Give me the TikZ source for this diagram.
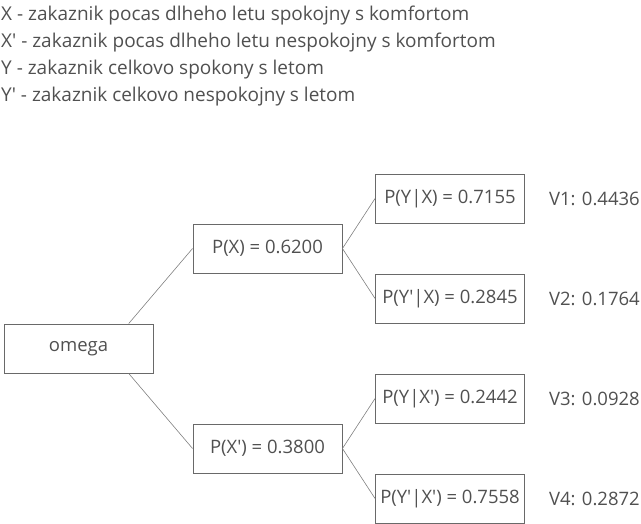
\documentclass[tikz,border=0pt]{standalone}
\usepackage{fontspec}
\setmainfont{Open Sans}
\usetikzlibrary{positioning,calc}
\definecolor{ink}{RGB}{80,80,80}
\definecolor{frame}{RGB}{105,105,105}
\newcommand{\q}{\textquotesingle}

\begin{document}
\begin{tikzpicture}[x=1pt, y=-1pt,
    box/.style={draw=frame,line width=0.9pt,minimum width=149pt,minimum height=49pt,
                inner sep=0pt,text=ink,font=\fontsize{18.5}{22}\selectfont},
    lbl/.style={anchor=west,inner sep=0pt,text=ink,font=\fontsize{19}{22}\selectfont},
    val/.style={anchor=east,inner sep=0pt,text=ink,font=\fontsize{18.5}{22}\selectfont},
    ln/.style={draw=frame!85,line width=0.6pt}]
    \useasboundingbox (0,0) rectangle (641,524);
    % legend
    \node[lbl] (l1) at (1,16) {X - zakaznik pocas dlheho letu spokojny s komfortom};
    \node[lbl] (l2) at (1,43) {X\q{} - zakaznik pocas dlheho letu nespokojny s komfortom};
    \node[lbl] (l3) at (1,70) {Y - zakaznik celkovo spokony s letom};
    \node[lbl] (l4) at (1,97) {Y\q{} - zakaznik celkovo nespokojny s letom};
    % tree
    \node[box] (om)  at (78.5,348.5) {omega};
    \node[box] (x)   at (267.5,248.5) {P(X) = 0.6200};
    \node[box] (nx)  at (267.5,448.5) {P(X\q) = 0.3800};
    \node[box] (yx)  at (450,198.5) {P(Y|X) = 0.7155};
    \node[box] (nyx) at (450,298.5) {P(Y\q|X) = 0.2845};
    \node[box] (ynx) at (450,398.5) {P(Y|X\q) = 0.2442};
    \node[box] (nynx) at (450,498.5) {P(Y\q|X\q) = 0.7558};
    \node[val] (v1) at (640,198.5) {V1: 0.4436};
    \node[val] (v2) at (640,298.5) {V2: 0.1764};
    \node[val] (v3) at (640,398.5) {V3: 0.0928};
    \node[val] (v4) at (640,498.5) {V4: 0.2872};
    \draw[ln] ($(om.north)!0.67!(om.north east)$) -- (x.west);
    \draw[ln] ($(om.south)!0.67!(om.south east)$) -- (nx.west);
    \foreach \a/\b in {x/yx,x/nyx,nx/ynx,nx/nynx} \draw[ln] (\a.east) -- (\b.west);
\end{tikzpicture}
\end{document}
